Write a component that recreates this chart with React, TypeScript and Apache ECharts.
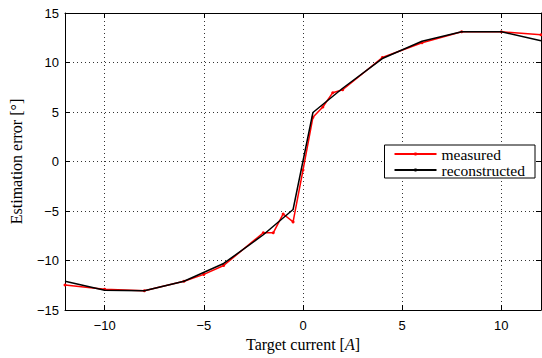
import React, { useEffect, useRef } from "react";
import * as echarts from "echarts";

const xTicks = [-10, -5, 0, 5, 10];
const yTicks = [-15, -10, -5, 0, 5, 10, 15];

const measuredX = [-12, -10, -8, -6, -5, -4, -2, -1.5, -1, -0.5, 0, 0.5, 1, 1.5, 2, 4, 6, 8, 10, 12];
const measuredY = [-12.47, -12.9, -13.05, -12.1, -11.4, -10.5, -7.2, -7.2, -5.3, -6.1, -0.86, 4.46, 5.5, 6.95, 7.25, 10.5, 12.0, 13.1, 13.1, 12.8];

const reconX = [-12, -10, -8, -6, -4, -2, -0.5, 0.5, 2, 4, 6, 8, 10, 12];
const reconY = [-12.1, -13.0, -13.05, -12.1, -10.3, -7.4, -4.85, 4.95, 7.4, 10.4, 12.15, 13.1, 13.1, 12.2];

const sans = "Liberation Sans";
const serif = "Liberation Serif";

const fmt = (v: number) => (v < 0 ? "\u2212" + Math.abs(v) : String(v));

export default function App() {
  const ref = useRef<HTMLDivElement>(null);
  useEffect(() => {
    if (!ref.current) return;
    const chart = echarts.init(ref.current, undefined, { renderer: "svg" });
    const gridLine = { show: true, lineStyle: { color: "#333", width: 1, type: [1, 3] as any } };
    chart.setOption({
      animation: false,
      backgroundColor: "#fff",
      grid: { left: 62, right: 1, top: 13, bottom: 48, containLabel: false },
      legend: {
        right: 7,
        top: 145,
        orient: "vertical",
        backgroundColor: "#fff",
        borderColor: "#000",
        borderWidth: 1,
        borderRadius: 0,
        padding: [1, 10, 0, 9],
        itemGap: 0,
        itemWidth: 42,
        itemHeight: 4,
        textStyle: { fontFamily: serif, fontSize: 15.5, lineHeight: 14, color: "#000" },
        data: ["measured", "reconstructed"],
      },
      xAxis: [
        {
          type: "value",
          min: -12,
          max: 12,
          position: "bottom",
          name: "Target current [{i|A}]",
          nameLocation: "middle",
          nameGap: 24,
          nameTextStyle: {
            fontFamily: serif,
            fontSize: 16,
            color: "#000",
            rich: { i: { fontFamily: serif, fontStyle: "italic", fontSize: 16, color: "#000" } },
          },
          axisLine: { show: true, onZero: false, lineStyle: { color: "#000", width: 1 } },
          axisTick: { show: true, inside: true, length: 5, customValues: xTicks, lineStyle: { color: "#000" } },
          axisLabel: { customValues: xTicks, fontFamily: sans, fontSize: 13, color: "#000", margin: 9, formatter: fmt },
          splitLine: gridLine,
        },
        {
          type: "value",
          min: -12,
          max: 12,
          position: "top",
          axisLine: { show: true, onZero: false, lineStyle: { color: "#000", width: 1 } },
          axisTick: { show: true, inside: true, length: 5, customValues: xTicks, lineStyle: { color: "#000" } },
          axisLabel: { show: false },
          splitLine: { show: false },
        },
      ],
      yAxis: [
        {
          type: "value",
          min: yTicks[0],
          max: yTicks[yTicks.length - 1],
          interval: 5,
          position: "left",
          name: "Estimation error [\u00b0]",
          nameLocation: "middle",
          nameGap: 41,
          nameTextStyle: { fontFamily: serif, fontSize: 16, color: "#000" },
          axisLine: { show: true, onZero: false, lineStyle: { color: "#000", width: 1 } },
          axisTick: { show: true, inside: true, length: 5, lineStyle: { color: "#000" } },
          axisLabel: { fontFamily: sans, fontSize: 13, color: "#000", margin: 6, formatter: fmt },
          splitLine: gridLine,
        },
        {
          type: "value",
          min: yTicks[0],
          max: yTicks[yTicks.length - 1],
          interval: 5,
          position: "right",
          axisLine: { show: true, onZero: false, lineStyle: { color: "#000", width: 1 } },
          axisTick: { show: true, inside: true, length: 5, lineStyle: { color: "#000" } },
          axisLabel: { show: false },
          splitLine: { show: false },
        },
      ],
      series: [
        {
          name: "measured",
          type: "line",
          xAxisIndex: 0,
          yAxisIndex: 0,
          data: measuredX.map((x, i) => [x, measuredY[i]]),
          symbol: "circle",
          symbolSize: 3,
          showSymbol: true,
          itemStyle: { color: "#ff0000" },
          lineStyle: { color: "#ff0000", width: 1.5 },
          z: 3,
        },
        {
          name: "reconstructed",
          type: "line",
          xAxisIndex: 0,
          yAxisIndex: 0,
          data: reconX.map((x, i) => [x, reconY[i]]),
          symbol: "none",
          itemStyle: { color: "#000" },
          lineStyle: { color: "#000", width: 1.5 },
          z: 4,
        },
      ],
    });
    return () => chart.dispose();
  }, []);
  return <div ref={ref} style={{ width: 542, height: 358, position: "absolute", left: 0, top: 0 }} />;
}
